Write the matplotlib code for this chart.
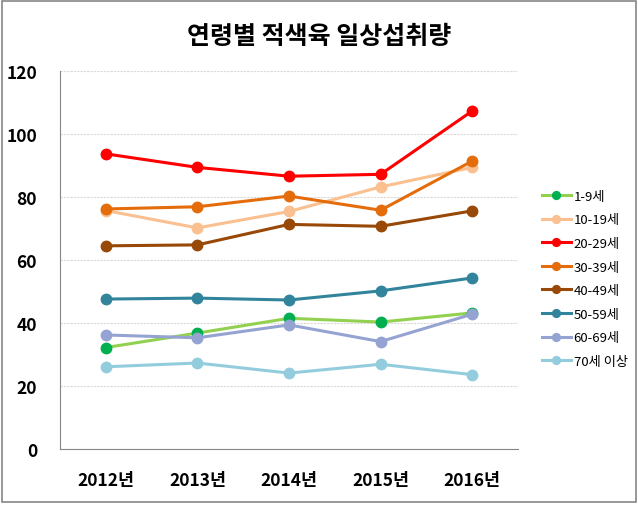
import matplotlib.pyplot as plt
from matplotlib.patches import Rectangle

plt.rcParams['font.family'] = ['Noto Sans CJK KR', 'DejaVu Sans']

years = ['2012년', '2013년', '2014년', '2015년', '2016년']
labels = ['1-9세', '10-19세', '20-29세', '30-39세', '40-49세', '50-59세', '60-69세', '70세 이상']

age_1_9 = [32.2, 36.8, 41.5, 40.3, 43.2]
age_10_19 = [75.7, 70.2, 75.4, 83.2, 89.4]
age_20_29 = [93.7, 89.4, 86.6, 87.2, 107.3]
age_30_39 = [76.2, 76.9, 80.3, 75.8, 91.4]
age_40_49 = [64.5, 64.8, 71.3, 70.7, 75.6]
age_50_59 = [47.6, 47.9, 47.3, 50.2, 54.3]
age_60_69 = [36.2, 35.3, 39.4, 34.1, 42.8]
age_70 = [26.1, 27.3, 24.1, 26.9, 23.6]

series = [age_1_9, age_10_19, age_20_29, age_30_39, age_40_49, age_50_59, age_60_69, age_70]
line_colors = ['#92D050', '#FAC090', '#FF0000', '#E46C0A', '#984807', '#31849B', '#95A3D2', '#93CDDD']
marker_colors = ['#00B050', '#FAC090', '#FF0000', '#E46C0A', '#984807', '#31849B', '#95A3D2', '#93CDDD']

fig = plt.figure(figsize=(6.38, 5.06), dpi=100)
ax = fig.add_axes([60 / 638, 1 - 450 / 506, 458 / 638, 378 / 506])

x = list(range(len(years)))
for vals, lab, lc, mc in zip(series, labels, line_colors, marker_colors):
    ax.plot(x, vals, color=lc, linewidth=2.2, marker='o', markersize=7.5,
            markerfacecolor=mc, markeredgecolor=mc, label=lab)

ax.set_xlim(-0.5, 4.5)
ax.set_ylim(0, 120)
ax.set_yticks(range(0, 121, 20))
ax.set_xticks(x)
ax.set_xticklabels(years)
for t in ax.get_xticklabels() + ax.get_yticklabels():
    t.set_fontweight('bold')
    t.set_fontsize(12.5)
ax.tick_params(axis='both', length=0)
ax.tick_params(axis='y', pad=16.5)
ax.tick_params(axis='x', pad=16)

ax.grid(axis='y', color='#D9D9D9', linewidth=0.8, linestyle=(0, (2, 1)))
ax.set_axisbelow(True)
for s in ['top', 'right']:
    ax.spines[s].set_visible(False)
ax.spines['left'].set_color('#868686')
ax.spines['bottom'].set_color('#868686')

fig.text(0.5, 1 - 37 / 506, '연령별 적색육 일상섭취량', ha='center', va='center',
         fontsize=18, fontweight='bold')

leg = ax.legend(loc='upper left', bbox_to_anchor=(530 / 638, 1 - 179 / 506),
                bbox_transform=fig.transFigure, frameon=False, fontsize=9.5,
                labelspacing=0.8, handlelength=2.2, handletextpad=0.2,
                markerscale=0.75)

fig.patches.append(Rectangle((0.003, 0.005), 0.994, 0.992, transform=fig.transFigure,
                             fill=False, edgecolor='#868686', linewidth=1.2))

fig.savefig('out.png', dpi=100)
